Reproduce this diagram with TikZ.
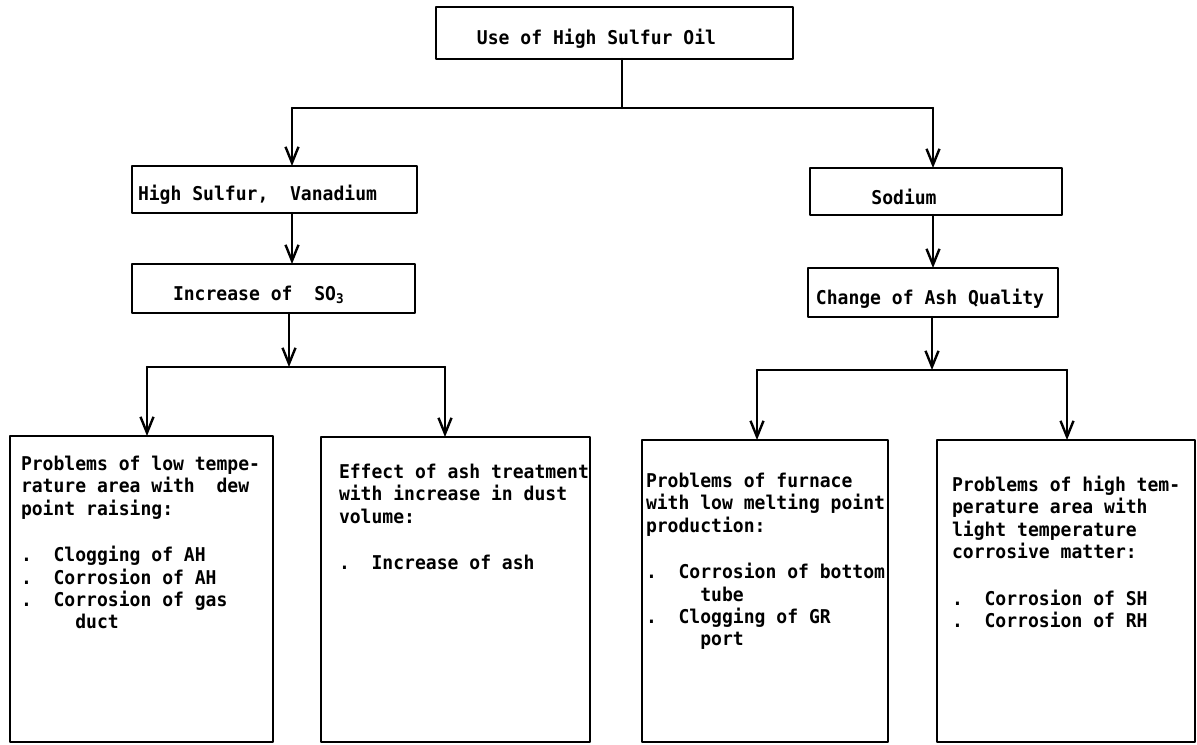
\documentclass[tikz,border=0pt]{standalone}
\usepackage{fontspec}
\usepackage{tikz}
\usetikzlibrary{arrows.meta}
\newfontfamily\chartfont[FakeStretch=0.95]{DejaVu Sans Mono}
\tikzset{
    chart/diagram/.style={
        x=0.5pt, y=-0.5pt,
        font={\chartfont\bfseries\fontsize{9.5}{11.2}\selectfont},
        line width=1.2pt,
        line cap=round,
        line join=round,
        >={Straight Barb[length=8pt, width=6.5pt]},
        every node/.style={inner sep=0pt, outer sep=0pt}
    },
    chart/box/.style={draw, rectangle, line width=1.2pt},
    chart/link/.style={draw, line width=1.2pt},
    chart/flow/.style={draw, line width=1.2pt, ->},
    chart/label/.style={anchor=base},
    chart/lefttext/.style={anchor=base west},
    chart/list/.style={anchor=north west, align=left}
}

\begin{document}
\begin{tikzpicture}[chart/diagram]
    \useasboundingbox (0,0) rectangle (1197,744);
    % upper chain of boxes
    \node[chart/box, minimum width=178.5pt, minimum height=26pt] (oil) at (614.5,33) {};
    \node[chart/label] (oiltext) at (596.5,44) {Use of High Sulfur Oil};
    \node[chart/box, minimum width=142.5pt, minimum height=23.5pt] (sulfur) at (274.5,189.5) {};
    \node[chart/lefttext] (sulfurtext) at (138,200) {High Sulfur,~~Vanadium};
    \node[chart/box, minimum width=126pt, minimum height=23.5pt] (sodium) at (936,191.5) {};
    \node[chart/label] (sodiumtext) at (904,204) {Sodium};
    \node[chart/box, minimum width=141.5pt, minimum height=24.5pt] (so3) at (273.5,288.5) {};
    \node[chart/lefttext] (so3text) at (173,300) {Increase of~~SO\textsubscript{3}};
    \node[chart/box, minimum width=125pt, minimum height=24.5pt] (ash) at (933,292.5) {};
    \node[chart/label] (ashtext) at (930,304) {Change of Ash Quality};
    % problem boxes
    \node[chart/box, minimum width=131.5pt, minimum height=153pt] (lowtemp) at (141.5,589) {};
    \node[chart/box, minimum width=134.5pt, minimum height=152.5pt] (treat) at (455.5,589.5) {};
    \node[chart/box, minimum width=123pt, minimum height=151pt] (furnace) at (765,591) {};
    \node[chart/box, minimum width=129pt, minimum height=151pt] (hightemp) at (1066,591) {};
    \node[chart/list] (lowtemptext) at (21,456) {Problems of low tempe-\\
        rature area with~~dew\\
        point raising:\\[12pt]
        .~~Clogging of AH\\
        .~~Corrosion of AH\\
        .~~Corrosion of gas\\
        ~~~~~duct};
    \node[chart/list] (treattext) at (339,464) {Effect of ash treatment\\
        with increase in dust\\
        volume:\\[12pt]
        .~~Increase of ash};
    \node[chart/list] (furnacetext) at (646,473) {Problems of furnace\\
        with low melting point\\
        production:\\[12pt]
        .~~Corrosion of bottom\\
        ~~~~~tube\\
        .~~Clogging of GR\\
        ~~~~~port};
    \node[chart/list] (hightemptext) at (952,476) {Problems of high tem-\\
        perature area with\\
        light temperature\\
        corrosive matter:\\[12pt]
        .~~Corrosion of SH\\
        .~~Corrosion of RH};
    % branch points
    \coordinate (jtop) at (622,108);
    \coordinate (jleft) at (292,108);
    \coordinate (jright) at (933,108);
    \coordinate (jso3) at (289,367);
    \coordinate (jlow) at (147,367);
    \coordinate (jtreat) at (445,367);
    \coordinate (jash) at (932,370);
    \coordinate (jfurnace) at (757,370);
    \coordinate (jhigh) at (1067,370);
    % connectors
    \draw[chart/link] (oil.south -| jtop) -- (jtop);
    \draw[chart/link] (jleft) -- (jright);
    \draw[chart/flow] (jleft) -- (sulfur.north -| jleft);
    \draw[chart/flow] (jright) -- (sodium.north -| jright);
    \draw[chart/flow] (sulfur.south -| jleft) -- (so3.north -| jleft);
    \draw[chart/flow] (sodium.south -| jright) -- (ash.north -| jright);
    \draw[chart/flow] (so3.south -| jso3) -- (jso3);
    \draw[chart/link] (jlow) -- (jtreat);
    \draw[chart/flow] (jlow) -- (lowtemp.north -| jlow);
    \draw[chart/flow] (jtreat) -- (treat.north -| jtreat);
    \draw[chart/flow] (ash.south -| jash) -- (jash);
    \draw[chart/link] (jfurnace) -- (jhigh);
    \draw[chart/flow] (jfurnace) -- (furnace.north -| jfurnace);
    \draw[chart/flow] (jhigh) -- (hightemp.north -| jhigh);
\end{tikzpicture}
\end{document}
